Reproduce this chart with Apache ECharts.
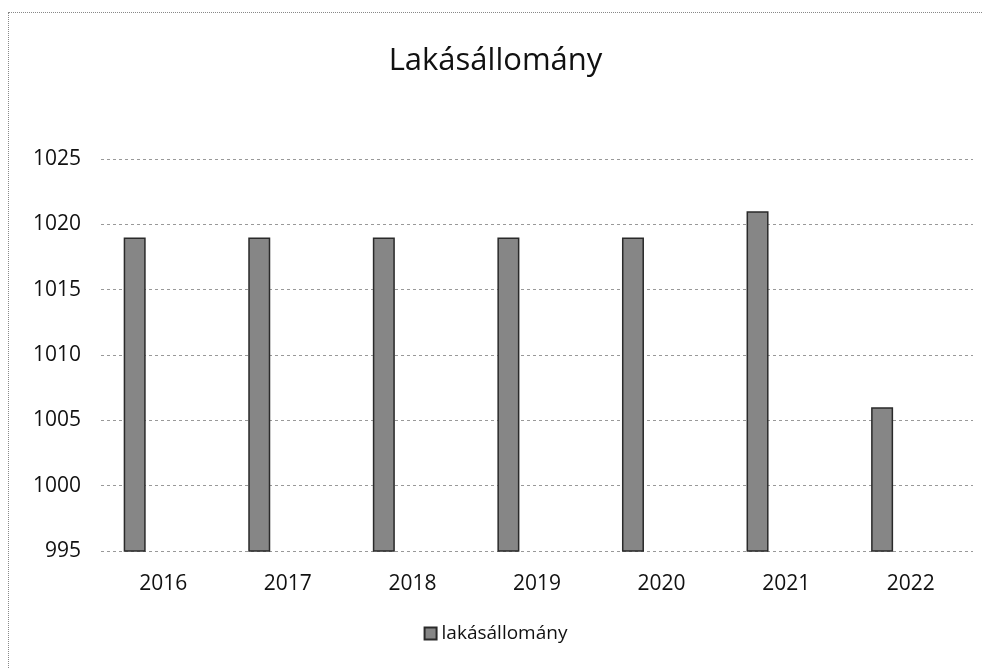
<!DOCTYPE html>
<html>
<head>
<meta charset="utf-8">
<script src="https://cdn.jsdelivr.net/npm/echarts@6/dist/echarts.min.js"></script>
<style>
  html, body { margin: 0; padding: 0; background: #fff; }
  #chart { position: absolute; left: 8px; top: 12px; width: 974px; height: 656px;
           border-top: 1px dotted #888; border-left: 1px dotted #888; box-sizing: border-box; }
</style>
</head>
<body>
<div id="chart"></div>
<script>
  // adatok
  const years = ['2016', '2017', '2018', '2019', '2020', '2021', '2022'];
  const lakasallomany = [1019, 1019, 1019, 1019, 1019, 1021, 1006];

  const chart = echarts.init(document.getElementById('chart'));
  const font = '"Open Sans", "Liberation Sans", sans-serif';

  chart.setOption({
    animation: false,
    title: {
      text: 'Lakásállomány',
      left: 'center',
      top: 28,
      textStyle: { fontFamily: font, fontSize: 31, fontWeight: 'normal', color: '#111' }
    },
    legend: {
      bottom: 20,
      left: 'center',
      itemWidth: 12,
      itemHeight: 12,
      itemGap: 6,
      icon: 'rect',
      data: ['lakásállomány'],
      textStyle: { fontFamily: font, fontSize: 19, color: '#111' }
    },
    grid: { left: 92, right: 9, top: 146, bottom: 117 },
    xAxis: {
      type: 'category',
      data: years,
      axisLine: { show: false },
      axisTick: { show: false },
      axisLabel: { fontFamily: font, fontSize: 21, color: '#111', margin: 23 }
    },
    yAxis: {
      type: 'value',
      min: 995,
      max: 1025,
      interval: 5,
      axisLine: { show: false },
      axisTick: { show: false },
      axisLabel: { fontFamily: font, fontSize: 21, color: '#111', margin: 20, formatter: v => String(v) },
      splitLine: { lineStyle: { color: '#999', type: [3, 3], width: 1 } }
    },
    series: [
      {
        name: 'lakásállomány',
        type: 'bar',
        data: lakasallomany,
        barWidth: 22,
        barGap: '160%',
        itemStyle: { color: '#868686', borderColor: '#2a2a2a', borderWidth: 1.5 }
      },
      {
        name: 'ures',
        type: 'bar',
        data: [],
        barWidth: 22
      }
    ]
  });
</script>
</body>
</html>
